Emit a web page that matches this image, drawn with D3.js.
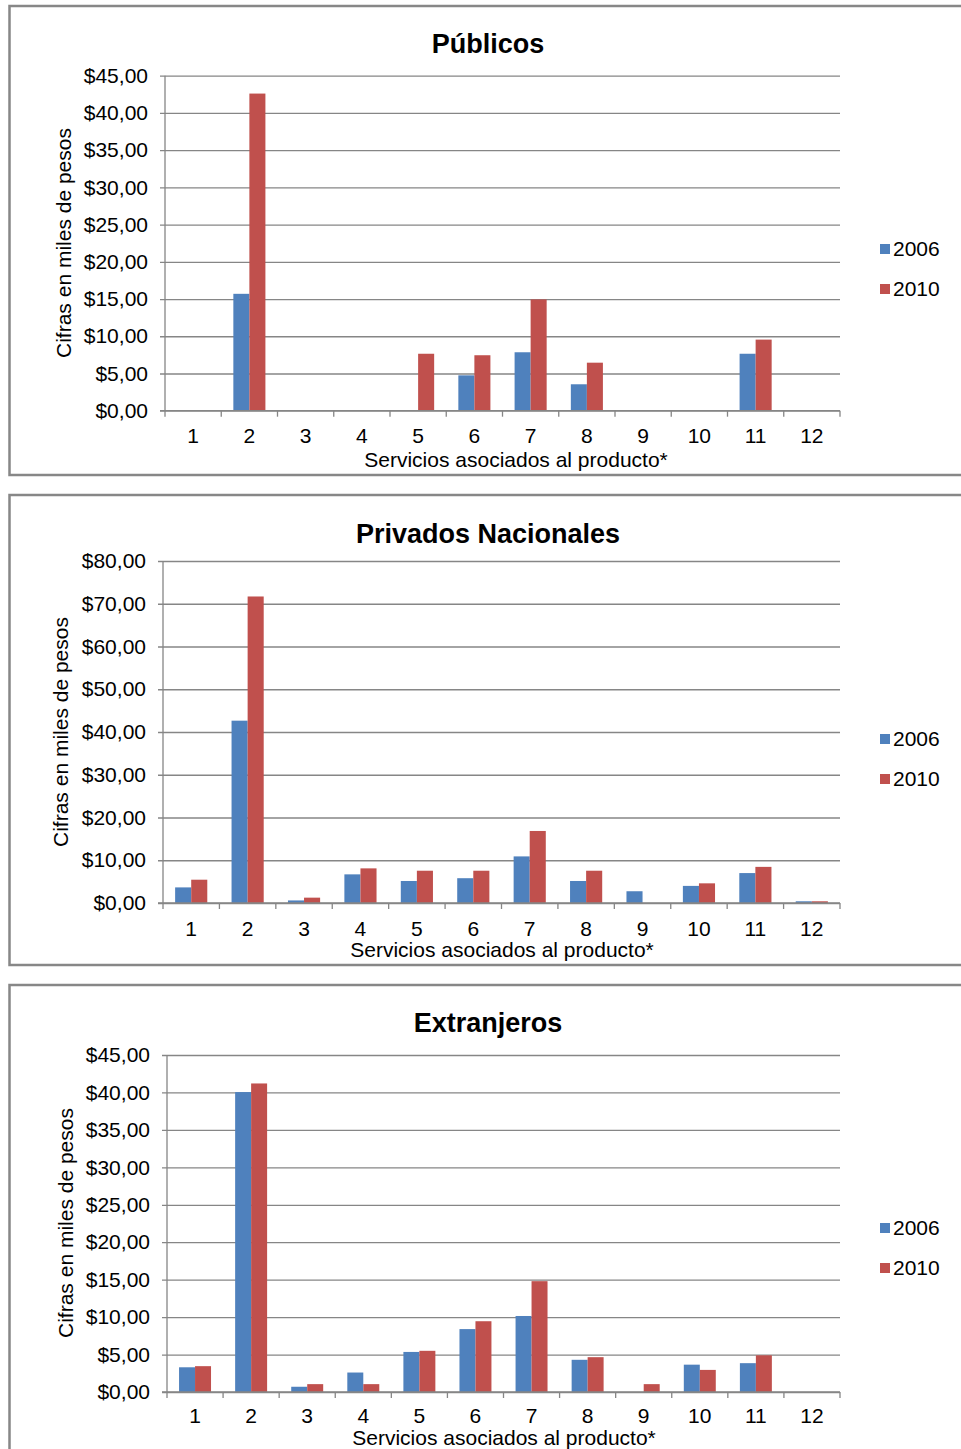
<!DOCTYPE html>
<html>
<head>
<meta charset="utf-8">
<script src="https://cdn.jsdelivr.net/npm/d3@7"></script>
<style>
  html, body { margin: 0; padding: 0; background: #fff; }
  svg text { font-family: "Liberation Sans", Arial, sans-serif; fill: #000; }
</style>
</head>
<body>
<svg id="chart" width="961" height="1449"></svg>
<script>
// Service categories shown on the x axis
const categories = ["1", "2", "3", "4", "5", "6", "7", "8", "9", "10", "11", "12"];
const seriesNames = ["2006", "2010"];

// Públicos (thousands of pesos)
const publicos2006 = [0, 15.7, 0, 0, 0, 4.75, 7.85, 3.55, 0, 0, 7.65, 0];
const publicos2010 = [0, 42.6, 0, 0, 7.65, 7.45, 14.95, 6.45, 0, 0, 9.55, 0];

// Privados Nacionales
const privados2006 = [3.65, 42.65, 0.6, 6.7, 5.15, 5.8, 10.9, 5.15, 2.75, 4.0, 7.0, 0.4];
const privados2010 = [5.45, 71.7, 1.25, 8.1, 7.55, 7.55, 16.85, 7.55, 0, 4.6, 8.45, 0.4];

// Extranjeros
const extranjeros2006 = [3.3, 40.05, 0.7, 2.6, 5.35, 8.4, 10.15, 4.3, 0, 3.65, 3.85, 0];
const extranjeros2010 = [3.45, 41.2, 1.05, 1.05, 5.5, 9.45, 14.8, 4.65, 1.05, 2.95, 4.9, 0];

// Y axis tick values
const ticks45 = [0, 5, 10, 15, 20, 25, 30, 35, 40, 45];
const ticks80 = [0, 10, 20, 30, 40, 50, 60, 70, 80];

const titles = ["Públicos", "Privados Nacionales", "Extranjeros"];
const xTitle = "Servicios asociados al producto*";
const yTitle = "Cifras en miles de pesos";

const colors = { "2006": "#4F81BD", "2010": "#C0504D" };
const gridColor = "#868686";

const locale = d3.formatLocale({ decimal: ",", thousands: ".", grouping: [3], currency: ["$", ""] });
const money = locale.format("$.2f");

// Panel layout
const panels = [
  { title: titles[0], s2006: publicos2006, s2010: publicos2010, ticks: ticks45,
    frameTop: 6, frameBottom: 475, left: 165, right: 840, top: 75.7, bottom: 410.7,
    titleY: 44, xLabY: 436, xTitleX: 516, xTitleY: 460, yTitleX: 64, yTitleY: 243, legY: 249 },
  { title: titles[1], s2006: privados2006, s2010: privados2010, ticks: ticks80,
    frameTop: 495, frameBottom: 965, left: 163, right: 840, top: 561, bottom: 903,
    titleY: 534, xLabY: 929, xTitleX: 502, xTitleY: 950, yTitleX: 61, yTitleY: 732, legY: 739 },
  { title: titles[2], s2006: extranjeros2006, s2010: extranjeros2010, ticks: ticks45,
    frameTop: 985, frameBottom: 1470, left: 167, right: 840, top: 1055, bottom: 1392,
    titleY: 1023, xLabY: 1416, xTitleX: 504, xTitleY: 1438, yTitleX: 66, yTitleY: 1223, legY: 1228 }
];

const svg = d3.select("#chart");

panels.forEach(p => {
  const g = svg.append("g");

  // frame
  g.append("rect")
    .attr("x", 9.5).attr("y", p.frameTop)
    .attr("width", 980).attr("height", p.frameBottom - p.frameTop)
    .attr("fill", "#fff").attr("stroke", "#878787").attr("stroke-width", 2.5);

  const x0 = d3.scaleBand().domain(categories).range([p.left, p.right])
    .paddingInner(0.43).paddingOuter(0.215);
  const x1 = d3.scaleBand().domain(seriesNames).range([0, x0.bandwidth()]);
  const y = d3.scaleLinear().domain([0, d3.max(p.ticks)]).range([p.bottom, p.top]);

  // gridlines + y axis labels
  const yAxis = d3.axisLeft(y).tickValues(p.ticks).tickFormat(money)
    .tickSize(-(p.right - p.left)).tickPadding(17);
  const ya = g.append("g").attr("transform", `translate(${p.left},0)`).call(yAxis);
  ya.select(".domain").remove();
  ya.selectAll(".tick line").attr("stroke", gridColor).attr("stroke-width", 1.3)
    .attr("x1", -5);
  ya.selectAll(".tick text").style("font-size", "21px")
    .style("font-family", '"Liberation Sans", Arial, sans-serif').attr("fill", "#000");

  // bars
  const rows = categories.map((c, i) => ({ cat: c, vals: [
    { key: "2006", v: p.s2006[i] }, { key: "2010", v: p.s2010[i] }] }));
  const grp = g.selectAll(".cat").data(rows).join("g")
    .attr("transform", d => `translate(${x0(d.cat)},0)`);
  grp.selectAll("rect").data(d => d.vals.filter(e => e.v > 0)).join("rect")
    .attr("x", d => x1(d.key))
    .attr("width", x1.bandwidth())
    .attr("y", d => y(d.v))
    .attr("height", d => y(0) - y(d.v))
    .attr("fill", d => colors[d.key]);

  // y axis line
  g.append("line").attr("x1", p.left).attr("x2", p.left)
    .attr("y1", p.top).attr("y2", p.bottom)
    .attr("stroke", gridColor).attr("stroke-width", 1.3);

  // x axis line and boundary ticks
  g.append("line").attr("x1", p.left - 5).attr("x2", p.right)
    .attr("y1", p.bottom).attr("y2", p.bottom)
    .attr("stroke", gridColor).attr("stroke-width", 1.3);
  const step = x0.step();
  const bounds = d3.range(categories.length + 1).map(i => x0.range()[0] + i * step);
  g.selectAll(".bt").data(bounds).join("line")
    .attr("x1", d => d).attr("x2", d => d)
    .attr("y1", p.bottom).attr("y2", p.bottom + 6)
    .attr("stroke", gridColor).attr("stroke-width", 1.3);

  // x tick labels
  g.selectAll(".xl").data(categories).join("text")
    .attr("x", d => x0(d) + x0.bandwidth() / 2)
    .attr("y", p.xLabY)
    .attr("dy", "0.35em")
    .attr("text-anchor", "middle")
    .style("font-size", "21px")
    .text(d => d);

  // titles
  g.append("text").attr("x", 488).attr("y", p.titleY).attr("dy", "0.35em")
    .attr("text-anchor", "middle").style("font-size", "27px").style("font-weight", "bold")
    .text(p.title);
  g.append("text").attr("x", p.xTitleX).attr("y", p.xTitleY).attr("dy", "0.35em")
    .attr("text-anchor", "middle").style("font-size", "21px").text(xTitle);
  g.append("text").attr("transform", `translate(${p.yTitleX},${p.yTitleY}) rotate(-90)`)
    .attr("dy", "0.35em").attr("text-anchor", "middle").style("font-size", "21px").text(yTitle);

  // legend
  const leg = g.selectAll(".leg").data(seriesNames).join("g")
    .attr("transform", (d, i) => `translate(880,${p.legY + i * 40})`);
  leg.append("rect").attr("x", 0).attr("y", -5).attr("width", 10).attr("height", 10)
    .attr("fill", d => colors[d]);
  leg.append("text").attr("x", 13).attr("y", 0).attr("dy", "0.35em")
    .style("font-size", "21px").text(d => d);
});
</script>
</body>
</html>
